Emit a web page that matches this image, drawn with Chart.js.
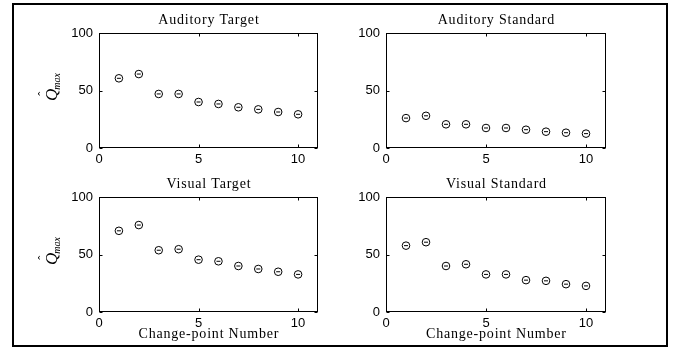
<!DOCTYPE html>
<html>
<head>
<meta charset="utf-8">
<script src="https://cdn.jsdelivr.net/npm/chart.js@4.4.1/dist/chart.umd.min.js"></script>
<style>
  html, body { margin: 0; padding: 0; background: #fff; }
  #page { position: relative; width: 683px; height: 350px; overflow: hidden; background: #fff; }
  #frame { position: absolute; left: 12px; top: 3px; width: 652px; height: 340px; border: 2px solid #000; }
  canvas { position: absolute; }
</style>
</head>
<body>
<div id="page">
  <div id="frame"></div>
</div>
<script>
// Change-point numbers shared by all four panels
const changePoints = [1, 2, 3, 4, 5, 6, 7, 8, 9, 10];

// Estimated Q_max for each condition
const auditoryTarget   = [60.6, 64.3, 47.0, 47.0, 40.0, 38.3, 35.4, 33.6, 31.3, 29.3];
const auditoryStandard = [26.0, 28.0, 20.6, 20.6, 17.4, 17.4, 15.9, 14.2, 13.3, 12.5];
const visualTarget     = [70.6, 75.6, 53.7, 54.6, 45.5, 44.1, 40.0, 37.4, 35.0, 32.7];
const visualStandard   = [57.7, 60.7, 40.0, 41.5, 32.7, 32.7, 27.7, 27.1, 24.2, 22.7];

// Panel titles and axis text
const panelTitles = ["Auditory Target", "Auditory Standard", "Visual Target", "Visual Standard"];
const xAxisTitle = "Change-point Number";
const xTickValues = [0, 5, 10];
const yTickValues = [0, 50, 100];

const panelSeries = [auditoryTarget, auditoryStandard, visualTarget, visualStandard];

// Plot-area rectangles on the page (left, top, right, bottom)
const plotRects = [
  { l: 99,  t: 33,  r: 318, b: 148 },
  { l: 386, t: 33,  r: 606, b: 148 },
  { l: 99,  t: 197, r: 318, b: 312 },
  { l: 386, t: 197, r: 606, b: 312 }
];

const PAD_L = 85, PAD_T = 28, PAD_R = 23, PAD_B = 45;
const Y_AXIS_W = 40, X_AXIS_H = 20;

// Draws the closed axes box, inward tick marks and the panel texts
const panelDecor = {
  id: 'panelDecor',
  afterDraw(chart, args, opts) {
    const ctx = chart.ctx;
    const a = chart.chartArea;
    const xs = chart.scales.x, ys = chart.scales.y;
    ctx.save();
    ctx.strokeStyle = '#000';
    ctx.lineWidth = 1;
    const L = Math.round(a.left) + 0.5, R = Math.round(a.right) - 0.5;
    const T = Math.round(a.top) + 0.5, B = Math.round(a.bottom) - 0.5;
    ctx.strokeRect(L, T, R - L, B - T);
    const tl = 3;
    ctx.beginPath();
    xTickValues.forEach(v => {
      const px = Math.round(xs.getPixelForValue(v)) + 0.5;
      ctx.moveTo(px, B); ctx.lineTo(px, B - tl);
      ctx.moveTo(px, T); ctx.lineTo(px, T + tl);
    });
    yTickValues.forEach(v => {
      const py = Math.round(ys.getPixelForValue(v)) + 0.5;
      ctx.moveTo(L, py); ctx.lineTo(L + tl, py);
      ctx.moveTo(R, py); ctx.lineTo(R - tl, py);
    });
    ctx.stroke();

    const cx = (a.left + a.right) / 2;
    ctx.fillStyle = '#000';
    ctx.textAlign = 'center';
    ctx.textBaseline = 'alphabetic';
    ctx.font = '14px "Liberation Serif", serif';
    ctx.letterSpacing = '0.8px';
    ctx.fillText(opts.title, cx + 0.4, a.top - 9);

    if (opts.showXTitle) {
      ctx.fillText(xAxisTitle, cx + 0.4, a.bottom + 26);
    }
    ctx.letterSpacing = '0px';

    if (opts.showYTitle) {
      // rotated Q-hat with subscript "max"
      const lx = a.left - 47, ly = (a.top + a.bottom) / 2 - 4;
      ctx.translate(lx, ly);
      ctx.rotate(-Math.PI / 2);
      ctx.textAlign = 'left';
      ctx.font = 'italic 17px "Liberation Serif", serif';
      const qw = ctx.measureText('Q').width;
      ctx.font = 'italic 10px "Liberation Serif", serif';
      const mw = ctx.measureText('max').width;
      const total = qw + mw;
      const x0 = -total / 2;
      ctx.font = 'italic 17px "Liberation Serif", serif';
      ctx.fillText('Q', x0, 5);
      ctx.font = '12px "Liberation Serif", serif';
      ctx.textAlign = 'center';
      ctx.fillText('\u02C6', x0 + qw / 2 + 1, -5);
      ctx.textAlign = 'left';
      ctx.font = 'italic 10px "Liberation Serif", serif';
      ctx.fillText('max', x0 + qw - 1, 8);
    }
    ctx.restore();
  }
};

function makePanel(i) {
  const rect = plotRects[i];
  const canvas = document.createElement('canvas');
  const w = (rect.r - rect.l) + PAD_L + PAD_R;
  const h = (rect.b - rect.t) + PAD_T + PAD_B;
  canvas.width = w; canvas.height = h;
  canvas.style.width = w + 'px'; canvas.style.height = h + 'px';
  canvas.style.left = (rect.l - PAD_L) + 'px';
  canvas.style.top = (rect.t - PAD_T) + 'px';
  document.getElementById('page').appendChild(canvas);

  const values = panelSeries[i];
  const pts = changePoints.map((x, k) => ({ x: x, y: values[k] }));

  new Chart(canvas, {
    type: 'scatter',
    data: {
      datasets: [
        {
          data: pts,
          pointStyle: 'circle',
          pointRadius: 3.8,
          pointBorderWidth: 1,
          pointBorderColor: '#000',
          pointBackgroundColor: 'rgba(255,255,255,0)',
          showLine: false
        },
        {
          data: pts,
          pointStyle: 'line',
          pointRadius: 2,
          pointBorderWidth: 1,
          pointBorderColor: '#000',
          showLine: false
        }
      ]
    },
    plugins: [panelDecor],
    options: {
      responsive: false,
      animation: false,
      events: [],
      layout: {
        padding: { left: PAD_L - Y_AXIS_W, top: PAD_T, right: PAD_R, bottom: PAD_B - X_AXIS_H }
      },
      plugins: {
        legend: { display: false },
        tooltip: { enabled: false },
        title: { display: false },
        panelDecor: { title: panelTitles[i], showXTitle: i >= 2, showYTitle: i % 2 === 0 }
      },
      scales: {
        x: {
          type: 'linear',
          min: 0, max: 11,
          grid: { display: false, drawTicks: false, tickLength: 0 },
          border: { display: false },
          afterFit(s) { s.height = X_AXIS_H; },
          ticks: {
            stepSize: 5,
            includeBounds: false,
            padding: 4,
            color: '#000',
            maxRotation: 0,
            font: { family: '"Liberation Sans", Arial, sans-serif', size: 13 }
          }
        },
        y: {
          type: 'linear',
          min: 0, max: 100,
          grid: { display: false, drawTicks: false, tickLength: 0 },
          border: { display: false },
          afterFit(s) { s.width = Y_AXIS_W; },
          ticks: {
            stepSize: 50,
            includeBounds: false,
            padding: 6,
            color: '#000',
            font: { family: '"Liberation Sans", Arial, sans-serif', size: 13 }
          }
        }
      }
    }
  });
}

for (let i = 0; i < 4; i++) makePanel(i);
</script>
</body>
</html>
